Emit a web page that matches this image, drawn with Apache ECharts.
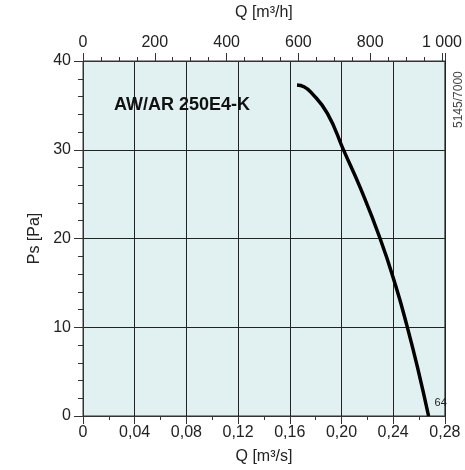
<!DOCTYPE html>
<html>
<head>
<meta charset="utf-8">
<script src="https://cdn.jsdelivr.net/npm/echarts@6/dist/echarts.min.js"></script>
<style>html,body{margin:0;padding:0;background:#fff;}#c{width:465px;height:470px;}</style>
</head>
<body>
<div id="c"></div>
<script>
// Data
const flowM3s = [0.1656, 0.1710, 0.1763, 0.1891, 0.2018, 0.2146, 0.2299, 0.2419, 0.2508, 0.2593, 0.2674];
const pressurePa = [37.3, 37.1, 36.5, 34.1, 29.9, 25.7, 20.0, 14.7, 10.1, 5.2, 0.0];
const title = 'AW/AR 250E4-K';
const curveLabel = '64';
const codeLabel = '5145/7000';
const xMaxM3s = 0.28;
const topMaxM3h = 1008;

const font = 'Liberation Sans, Arial, sans-serif';
const dark = '#222';

const seriesData = flowM3s.map((q, i) => [q, pressurePa[i]]);

const chart = echarts.init(document.getElementById('c'), null, { renderer: 'canvas' });
chart.setOption({
  animation: false,
  backgroundColor: '#fff',
  textStyle: { fontFamily: font },
  grid: { left: 83, right: 16, top: 60, bottom: 46, show: true,
    backgroundColor: '#e1f0f0', borderColor: '#333', borderWidth: 1 },
  title: { text: title, left: 109, top: 91, textStyle: { fontFamily: font, fontSize: 18, fontWeight: 'bold', color: '#111' } },
  xAxis: [
    { type: 'value', position: 'bottom', min: 0, max: xMaxM3s, interval: 0.04,
      name: 'Q [m³/s]', nameLocation: 'middle', nameGap: 33,
      nameTextStyle: { fontSize: 16, color: dark, fontFamily: font },
      axisLine: { show: true, onZero: false, lineStyle: { color: '#333' } },
      axisTick: { show: true, inside: false, length: 8, lineStyle: { color: '#333' } },
      minorTick: { show: true, splitNumber: 2, length: 4, lineStyle: { color: '#333' } },
      axisLabel: { fontSize: 16, color: dark, margin: 9, fontFamily: font,
        formatter: v => v === 0 ? '0' : v.toFixed(2).replace('.', ',') },
      splitLine: { show: true, lineStyle: { color: '#222', width: 1 } }
    },
    { type: 'value', position: 'top', min: 0, max: topMaxM3h, interval: 200,
      name: 'Q [m³/h]', nameLocation: 'middle', nameGap: 40,
      nameTextStyle: { fontSize: 16, color: dark, fontFamily: font },
      axisLine: { show: true, onZero: false, lineStyle: { color: '#333' } },
      axisTick: { show: true, inside: false, length: 8, lineStyle: { color: '#333' } },
      minorTick: { show: true, splitNumber: 4, length: 4, lineStyle: { color: '#333' } },
      axisLabel: { fontSize: 16, color: dark, margin: 10, fontFamily: font,
        formatter: v => v >= 1000 ? String(v).replace(/\B(?=(\d{3})+$)/g, ' ') : String(v) },
      splitLine: { show: false }
    }
  ],
  yAxis: {
    type: 'value', min: 0, max: 40, interval: 10,
    name: 'Ps [Pa]', nameLocation: 'middle', nameGap: 34, nameRotate: 90,
    nameTextStyle: { fontSize: 16, color: dark, fontFamily: font },
    axisLine: { show: true, lineStyle: { color: '#333' } },
    axisTick: { show: true, inside: false, length: 9, lineStyle: { color: '#333' } },
    minorTick: { show: true, splitNumber: 5, length: 5, lineStyle: { color: '#333' } },
    axisLabel: { fontSize: 16, color: dark, margin: 12, fontFamily: font },
    splitLine: { show: true, lineStyle: { color: '#222', width: 1 } }
  },
  graphic: [
    { type: 'text', x: 453, y: 128, rotation: Math.PI / 2,
      style: { text: codeLabel, fontSize: 12, fill: '#444', fontFamily: font } }
  ],
  series: [{
    type: 'line', xAxisIndex: 0, yAxisIndex: 0, data: seriesData,
    smooth: 0.5, showSymbol: false, symbol: 'none',
    lineStyle: { color: '#000', width: 3.5 },
    endLabel: { show: true, formatter: curveLabel, offset: [-2, -13],
      fontSize: 11, color: dark, fontFamily: font }
  }]
});
</script>
</body>
</html>
